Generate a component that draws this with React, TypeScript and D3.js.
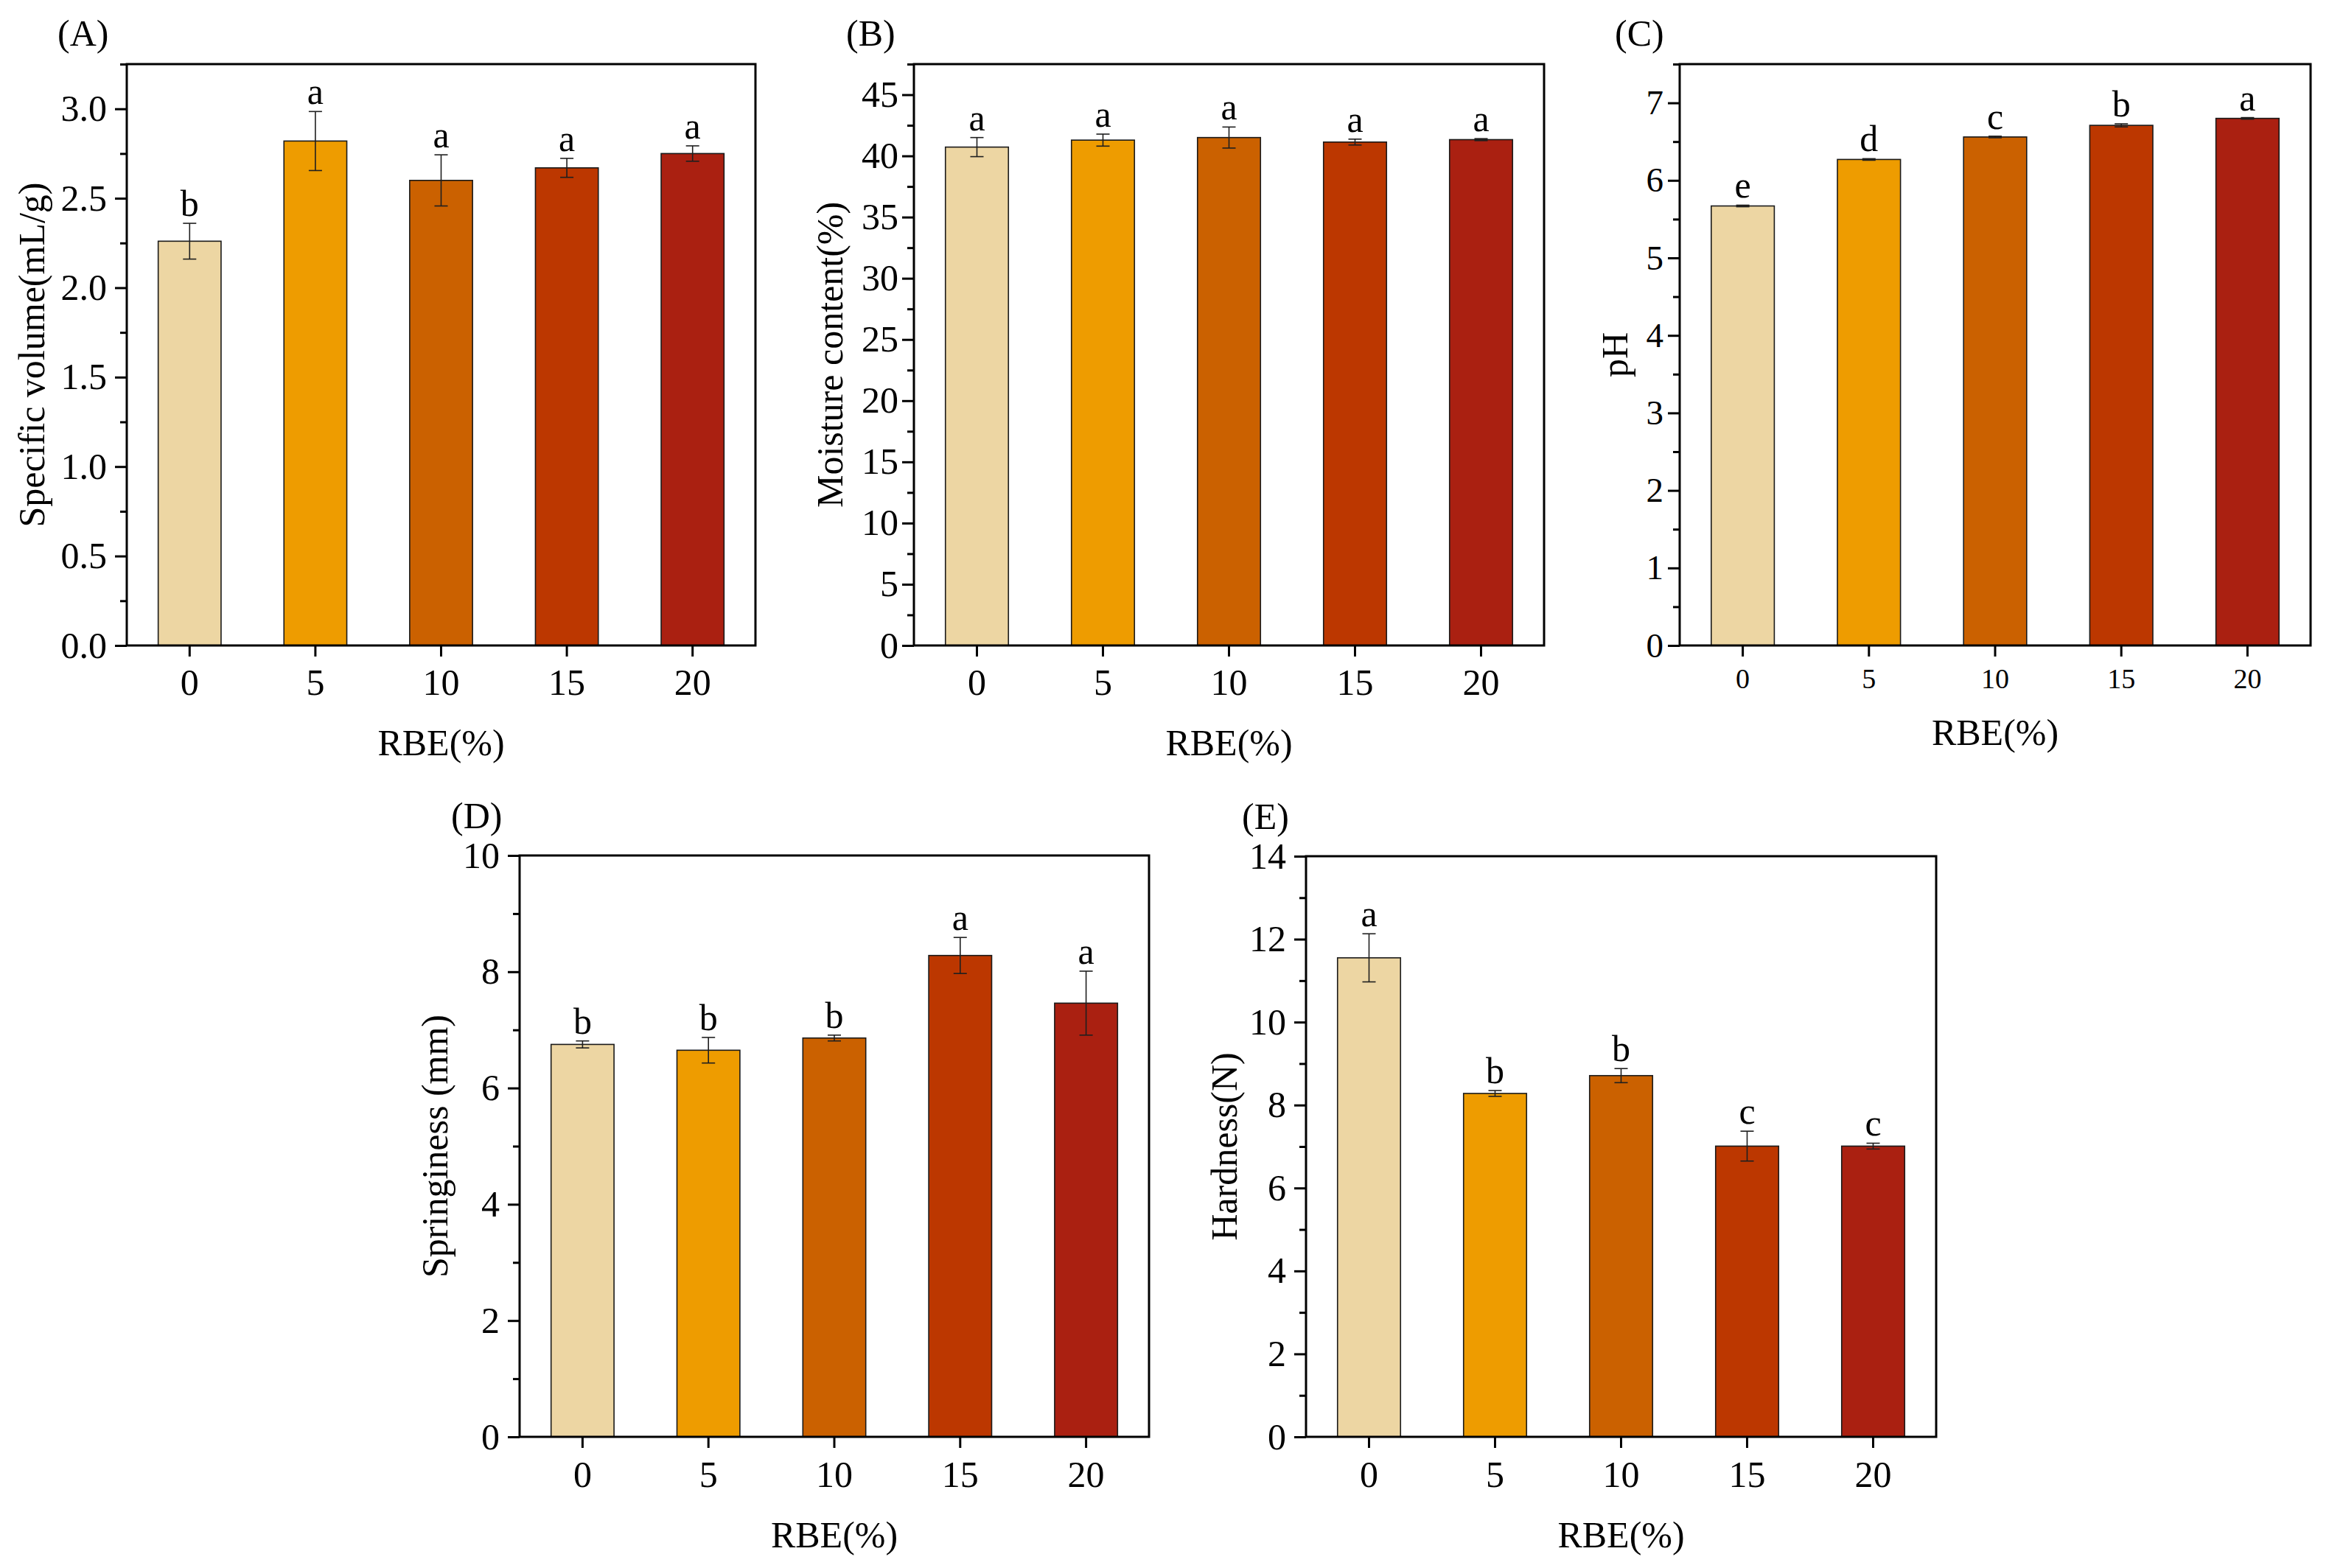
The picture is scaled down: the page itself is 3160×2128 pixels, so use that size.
// Bread quality panels (A-E): bar charts of RBE level vs. measured property

import { useEffect, useRef } from "react";
import * as d3 from "d3";

const rbeLevels = ["0", "5", "10", "15", "20"];
const barColors = ["#EDD6A3", "#EE9C00", "#CB6100", "#BC3700", "#AA2011"];

// (A) specific volume
const specificVolume = [2.26, 2.82, 2.6, 2.67, 2.75];
const specificVolumeErr = [0.1, 0.165, 0.143, 0.053, 0.043];
const specificVolumeLetters = ["b", "a", "a", "a", "a"];

// (B) moisture content
const moisture = [40.72, 41.29, 41.5, 41.13, 41.33];
const moistureErr = [0.78, 0.49, 0.86, 0.24, 0.08];
const moistureLetters = ["a", "a", "a", "a", "a"];

// (C) pH
const ph = [5.67, 6.27, 6.56, 6.71, 6.8];
const phErr = [0.01, 0.01, 0.01, 0.02, 0.01];
const phLetters = ["e", "d", "c", "b", "a"];

// (D) springiness
const springiness = [6.75, 6.65, 6.86, 8.28, 7.46];
const springinessErr = [0.06, 0.22, 0.05, 0.31, 0.55];
const springinessLetters = ["b", "b", "b", "a", "a"];

// (E) hardness
const hardness = [11.55, 8.28, 8.71, 7.01, 7.01];
const hardnessErr = [0.58, 0.07, 0.17, 0.36, 0.07];
const hardnessLetters = ["a", "b", "b", "c", "c"];

const FONT = "'Liberation Serif', 'Times New Roman', serif";

interface Panel {
  tag: string;
  yLabel: string;
  values: number[];
  errors: number[];
  letters: string[];
  yMax: number;
  major: number;
  minor: number;
  format: string;
  left: number;
  top: number;
  width: number;
  height: number;
  yTitleOffset: number;
  yTickPad: number;
  yTickFont: number;
  xTickFont: number;
  xTickPad: number;
  xTitleOffset: number;
  tagDx: number;
  tagDy: number;
}

const panels: Panel[] = [
  {
    tag: "(A)", yLabel: "Specific volume(mL/g)",
    values: specificVolume, errors: specificVolumeErr, letters: specificVolumeLetters,
    yMax: 3.25, major: 0.5, minor: 0.25, format: ".1f",
    left: 172, top: 87, width: 853, height: 789,
    yTitleOffset: 112, yTickPad: 11, yTickFont: 50, xTickFont: 50, xTickPad: 16, xTitleOffset: 149,
    tagDx: -94, tagDy: -25,
  },
  {
    tag: "(B)", yLabel: "Moisture content(%)",
    values: moisture, errors: moistureErr, letters: moistureLetters,
    yMax: 47.5, major: 5, minor: 2.5, format: "d",
    left: 1240, top: 87, width: 855, height: 789,
    yTitleOffset: 97, yTickPad: 5, yTickFont: 50, xTickFont: 50, xTickPad: 16, xTitleOffset: 149,
    tagDx: -92, tagDy: -25,
  },
  {
    tag: "(C)", yLabel: "pH",
    values: ph, errors: phErr, letters: phLetters,
    yMax: 7.5, major: 1, minor: 0.5, format: "d",
    left: 2279, top: 87, width: 856, height: 789,
    yTitleOffset: 71, yTickPad: 6, yTickFont: 47, xTickFont: 38, xTickPad: 16, xTitleOffset: 135,
    tagDx: -88, tagDy: -25,
  },
  {
    tag: "(D)", yLabel: "Springiness (mm)",
    values: springiness, errors: springinessErr, letters: springinessLetters,
    yMax: 10, major: 2, minor: 1, format: "d",
    left: 705, top: 1161, width: 854, height: 789,
    yTitleOffset: 98, yTickPad: 11, yTickFont: 50, xTickFont: 50, xTickPad: 17, xTitleOffset: 150,
    tagDx: -93, tagDy: -37,
  },
  {
    tag: "(E)", yLabel: "Hardness(N)",
    values: hardness, errors: hardnessErr, letters: hardnessLetters,
    yMax: 14, major: 2, minor: 1, format: "d",
    left: 1772, top: 1162, width: 855, height: 788,
    yTitleOffset: 94, yTickPad: 11, yTickFont: 50, xTickFont: 50, xTickPad: 17, xTitleOffset: 150,
    tagDx: -87, tagDy: -37,
  },
];

function drawPanel(root: d3.Selection<SVGSVGElement, unknown, null, undefined>, p: Panel) {
  const g = root.append("g").attr("transform", `translate(${p.left},${p.top})`);

  const x = d3
    .scaleBand<string>()
    .domain(rbeLevels)
    .range([0, p.width])
    .paddingInner(0.5)
    .paddingOuter(0.25);

  const y = d3.scaleLinear().domain([0, p.yMax]).range([p.height, 0]);

  // bars
  g.selectAll("rect.bar")
    .data(p.values)
    .join("rect")
    .attr("class", "bar")
    .attr("x", (_, i) => x(rbeLevels[i])!)
    .attr("y", (d) => y(d))
    .attr("width", x.bandwidth())
    .attr("height", (d) => p.height - y(d))
    .attr("fill", (_, i) => barColors[i])
    .attr("stroke", "#1a1a1a")
    .attr("stroke-width", 1.6);

  // error bars
  const cap = 9;
  const err = g.append("g").attr("stroke", "#1f1f1f").attr("stroke-width", 1.6);
  p.values.forEach((v, i) => {
    const cx = x(rbeLevels[i])! + x.bandwidth() / 2;
    const y1 = y(v + p.errors[i]);
    const y0 = y(v - p.errors[i]);
    err.append("line").attr("x1", cx).attr("x2", cx).attr("y1", y1).attr("y2", y0);
    err.append("line").attr("x1", cx - cap).attr("x2", cx + cap).attr("y1", y1).attr("y2", y1);
    err.append("line").attr("x1", cx - cap).attr("x2", cx + cap).attr("y1", y0).attr("y2", y0);
  });

  // significance letters
  g.selectAll("text.sig")
    .data(p.letters)
    .join("text")
    .attr("class", "sig")
    .attr("x", (_, i) => x(rbeLevels[i])! + x.bandwidth() / 2)
    .attr("y", (_, i) => y(p.values[i] + p.errors[i]) - 10)
    .attr("text-anchor", "middle")
    .attr("font-family", FONT)
    .attr("font-size", 50)
    .attr("fill", "#000")
    .text((d) => d);

  // y axis: major + minor ticks
  const majors = d3.range(0, p.yMax + 1e-9, p.major);
  const minors = d3
    .range(0, p.yMax + 1e-9, p.minor)
    .filter((v) => Math.abs(v / p.major - Math.round(v / p.major)) > 1e-6);

  const yMinor = g
    .append("g")
    .call(d3.axisLeft(y).tickValues(minors).tickSize(9).tickSizeOuter(0).tickFormat(() => ""));
  yMinor.select(".domain").remove();
  yMinor.selectAll("line").attr("stroke", "#000").attr("stroke-width", 3);

  const yAxis = g
    .append("g")
    .call(
      d3
        .axisLeft(y)
        .tickValues(majors)
        .tickSize(16)
        .tickSizeOuter(0)
        .tickPadding(p.yTickPad)
        .tickFormat((d) => d3.format(p.format)(d as number))
    );
  yAxis.select(".domain").remove();
  yAxis.selectAll("line").attr("stroke", "#000").attr("stroke-width", 3);
  yAxis
    .selectAll("text")
    .attr("font-family", FONT)
    .attr("font-size", p.yTickFont)
    .attr("fill", "#000");

  // x axis
  const xAxis = g
    .append("g")
    .attr("transform", `translate(0,${p.height})`)
    .call(d3.axisBottom(x).tickSize(15).tickSizeOuter(0).tickPadding(p.xTickPad));
  xAxis.select(".domain").remove();
  xAxis.selectAll("line").attr("stroke", "#000").attr("stroke-width", 3);
  xAxis
    .selectAll("text")
    .attr("font-family", FONT)
    .attr("font-size", p.xTickFont)
    .attr("fill", "#000");

  // frame
  g.append("rect")
    .attr("x", 0)
    .attr("y", 0)
    .attr("width", p.width)
    .attr("height", p.height)
    .attr("fill", "none")
    .attr("stroke", "#000")
    .attr("stroke-width", 3);

  // titles
  g.append("text")
    .attr("transform", `translate(${-p.yTitleOffset},${p.height / 2}) rotate(-90)`)
    .attr("text-anchor", "middle")
    .attr("font-family", FONT)
    .attr("font-size", 50)
    .text(p.yLabel);

  g.append("text")
    .attr("x", p.width / 2)
    .attr("y", p.height + p.xTitleOffset)
    .attr("text-anchor", "middle")
    .attr("font-family", FONT)
    .attr("font-size", 50)
    .text("RBE(%)");

  g.append("text")
    .attr("x", p.tagDx)
    .attr("y", p.tagDy)
    .attr("font-family", FONT)
    .attr("font-size", 50)
    .text(p.tag);
}

export default function App() {
  const svgRef = useRef<SVGSVGElement>(null);

  useEffect(() => {
    if (!svgRef.current) return;
    const svg = d3.select(svgRef.current);
    svg.selectAll("*").remove();
    panels.forEach((p) => drawPanel(svg, p));
  }, []);

  return (
    <svg
      ref={svgRef}
      width={3160}
      height={2128}
      style={{ position: "absolute", left: 0, top: 0, background: "#fff" }}
    />
  );
}
